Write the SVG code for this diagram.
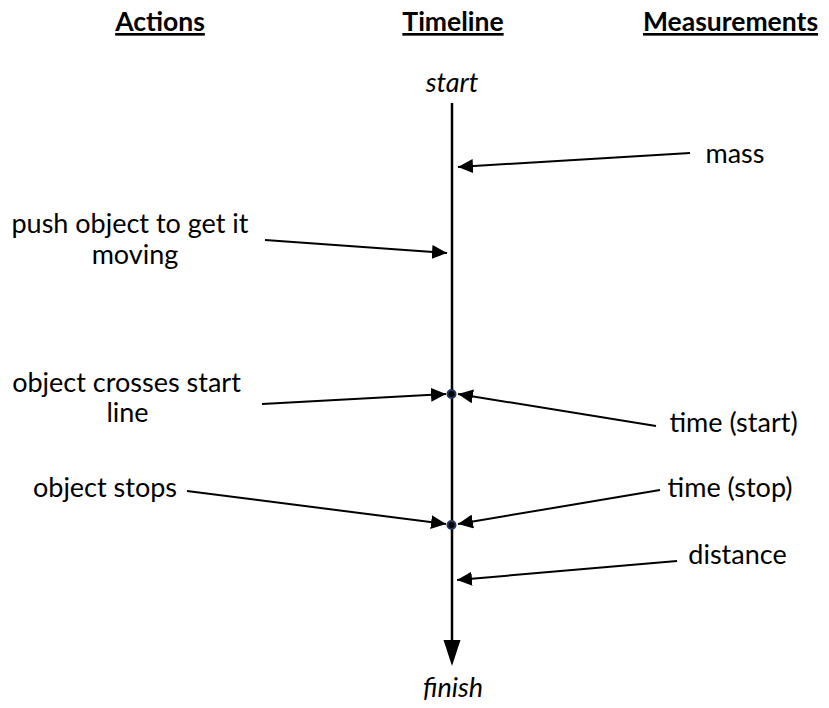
<svg xmlns="http://www.w3.org/2000/svg" width="829" height="708" viewBox="0 0 829 708">
<defs>
<style>
text{font-family:Lato,"Open Sans","Liberation Sans",sans-serif;font-size:27px;fill:#000;text-anchor:middle}
.h{font-weight:bold;text-decoration:underline;font-size:26.5px}
.i{font-style:italic}
.c{stroke:#000;stroke-width:2;fill:none}
.dot{fill:#000;stroke:#1f3864;stroke-width:2}
</style>
<marker id="ah" markerUnits="userSpaceOnUse" markerWidth="16" markerHeight="14" refX="15" refY="7" orient="auto">
<path d="M0,0 L15,7 L0,14 z" fill="#000"/>
</marker>
</defs>
<rect width="829" height="708" fill="#fff"/>
<g id="headers">
<text class="h" x="160" y="31">Actions</text>
<text class="h" x="453" y="31">Timeline</text>
<text class="h" x="730.5" y="31">Measurements</text>
</g>
<g id="timeline">
<text class="i" x="452" y="92">start</text>
<line x1="452" y1="103" x2="452" y2="642" stroke="#000" stroke-width="2.5"/>
<path d="M443.5,640 L460.5,640 L452,666 z" fill="#000"/>
<text class="i" x="453" y="697">finish</text>
</g>
<g id="connectors">
<line class="c" x1="690" y1="153" x2="458" y2="167" marker-end="url(#ah)"/>
<line class="c" x1="265" y1="240" x2="447" y2="253" marker-end="url(#ah)"/>
<line class="c" x1="262" y1="404" x2="446" y2="394" marker-end="url(#ah)"/>
<line class="c" x1="656" y1="426" x2="458" y2="394" marker-end="url(#ah)"/>
<line class="c" x1="187" y1="491" x2="446" y2="524" marker-end="url(#ah)"/>
<line class="c" x1="660" y1="490" x2="458" y2="524" marker-end="url(#ah)"/>
<line class="c" x1="677" y1="561" x2="457" y2="580" marker-end="url(#ah)"/>
</g>
<g id="dot-start"><circle class="dot" cx="451.5" cy="394" r="4"/></g>
<g id="dot-stop"><circle class="dot" cx="451.5" cy="525" r="4"/></g>
<g id="node-mass"><text x="735" y="163">mass</text></g>
<g id="node-push"><text x="130" y="233">push object to get it</text><text x="135" y="264">moving</text></g>
<g id="node-crosses"><text x="126.5" y="392">object crosses start</text><text x="127.5" y="422">line</text></g>
<g id="node-time-start"><text x="733.5" y="432">time (start)</text></g>
<g id="node-stops"><text x="105" y="497">object stops</text></g>
<g id="node-time-stop"><text x="730" y="497">time (stop)</text></g>
<g id="node-distance"><text x="737.5" y="564">distance</text></g>
</svg>
